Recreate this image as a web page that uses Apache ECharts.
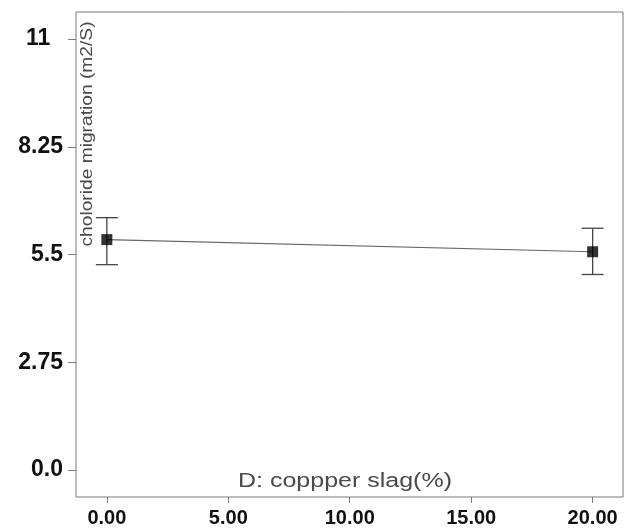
<!DOCTYPE html>
<html>
<head>
<meta charset="utf-8">
<script src="https://cdn.jsdelivr.net/npm/echarts@6/dist/echarts.min.js"></script>
<style>
  html, body { margin: 0; padding: 0; background: #fff; }
  #chart { width: 635px; height: 528px; }
</style>
</head>
<body>
<div id="chart"></div>
<script>
// copper slag levels (%) and mean chloride migration with error-bar limits
const slagLevels = [0, 20];
const meanValues = [5.88, 5.57];
const lowValues  = [5.24, 4.99];
const highValues = [6.44, 6.17];

const xTicks = [0, 5, 10, 15, 20];
const xTickLabels = ['0.00', '5.00', '10.00', '15.00', '20.00'];
const yTicks = [0, 2.75, 5.5, 8.25, 11];
const yTickLabels = ['0.0', '2.75', '5.5', '8.25', '11  '];

const xTitle = 'D: coppper slag(%)';
const yTitle = 'choloride migration (m2/S)';

const FONT = 'Arial, "Liberation Sans", sans-serif';
const chart = echarts.init(document.getElementById('chart'), null, { renderer: 'canvas' });

const points = slagLevels.map((x, i) => [x, meanValues[i]]);
const bars   = slagLevels.map((x, i) => [x, lowValues[i], highValues[i]]);

const tickFmt = (vals, labels) => v => {
  const i = vals.findIndex(t => Math.abs(t - v) < 1e-6);
  return i >= 0 ? labels[i] : '';
};

chart.setOption({
  backgroundColor: '#fff',
  animation: false,
  grid: {
    left: 76, right: 12, top: 12, bottom: 31,
    outerBoundsMode: 'none',
    containLabel: false,
    show: true, borderColor: '#7a7a7a', borderWidth: 1, backgroundColor: 'transparent',
  },
  xAxis: {
    type: 'value',
    min: -1.27, max: 21.25,
    axisLine: { show: false, onZero: false },
    splitLine: { show: false },
    axisTick: { show: true, length: 6, customValues: xTicks, lineStyle: { color: '#7a7a7a' } },
    axisLabel: {
      customValues: xTicks,
      formatter: tickFmt(xTicks, xTickLabels),
      color: '#111', fontSize: 20, fontWeight: 'bold', fontFamily: FONT, margin: 11,
    },
  },
  yAxis: {
    type: 'value',
    min: -0.69, max: 11.69,
    axisLine: { show: false, onZero: false },
    splitLine: { show: false },
    axisTick: { show: true, length: 8, customValues: yTicks, lineStyle: { color: '#7a7a7a' } },
    axisLabel: {
      customValues: yTicks,
      formatter: tickFmt(yTicks, yTickLabels),
      color: '#111', fontSize: 23, fontWeight: 'bold', fontFamily: FONT, margin: 13,
    },
  },
  graphic: [
    {
      type: 'text',
      x: 88, y: 134,
      rotation: Math.PI / 2,
      scaleX: 1.2,
      style: {
        text: yTitle, fill: '#4a4a4a', font: '16px ' + FONT,
        align: 'center', verticalAlign: 'middle',
      },
    },
    {
      type: 'text',
      x: 345, y: 481,
      scaleX: 1.25,
      style: {
        text: xTitle, fill: '#4a4a4a', font: '20px ' + FONT,
        align: 'center', verticalAlign: 'middle',
      },
    },
  ],
  series: [
    {
      type: 'line',
      data: points,
      showSymbol: false,
      lineStyle: { color: '#666', width: 1.2 },
      z: 2,
    },
    {
      type: 'custom',
      data: bars,
      renderItem: (params, api) => {
        const x = api.value(0);
        const lo = api.coord([x, api.value(1)]);
        const hi = api.coord([x, api.value(2)]);
        const hw = 11;
        const style = { stroke: '#444', lineWidth: 1.3 };
        return {
          type: 'group',
          children: [
            { type: 'line', shape: { x1: lo[0], y1: lo[1], x2: hi[0], y2: hi[1] }, style },
            { type: 'line', shape: { x1: lo[0] - hw, y1: lo[1], x2: lo[0] + hw, y2: lo[1] }, style },
            { type: 'line', shape: { x1: hi[0] - hw, y1: hi[1], x2: hi[0] + hw, y2: hi[1] }, style },
          ],
        };
      },
      z: 3,
    },
    {
      type: 'scatter',
      data: points,
      symbol: 'rect',
      symbolSize: 11,
      itemStyle: { color: '#000' },
      z: 4,
    },
  ],
});
</script>
</body>
</html>
